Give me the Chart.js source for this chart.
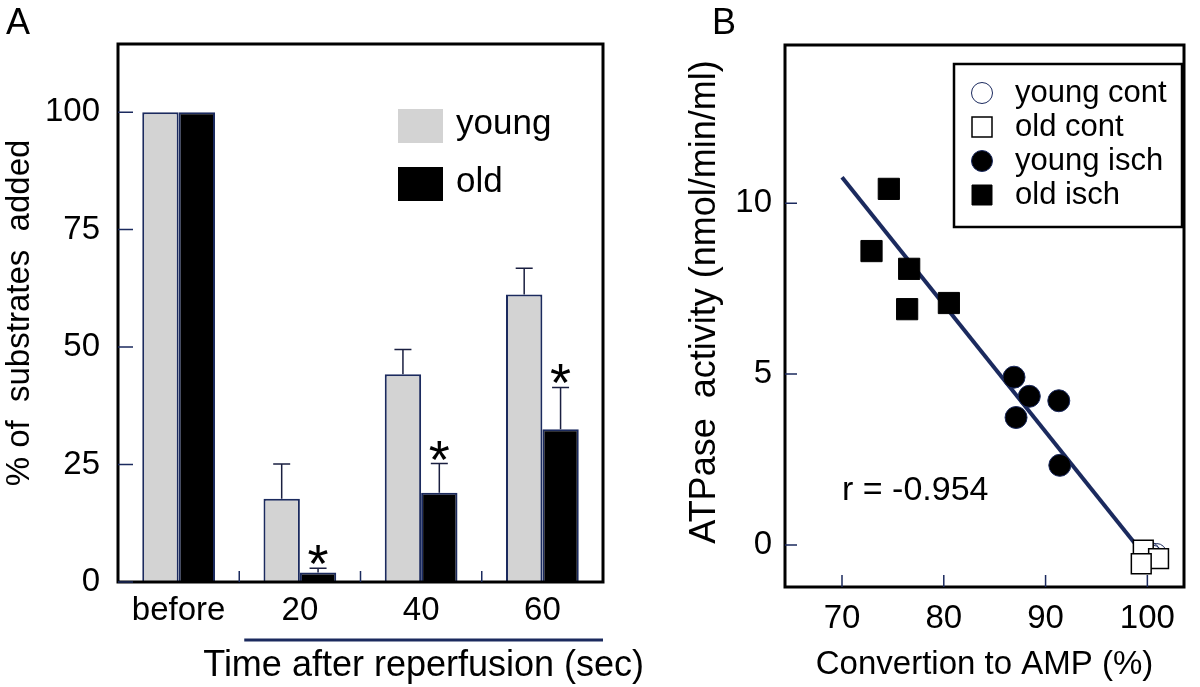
<!DOCTYPE html>
<html>
<head>
<meta charset="utf-8">
<script src="https://cdn.jsdelivr.net/npm/chart.js@4.4.1/dist/chart.umd.min.js"></script>
<style>
  body { margin: 0; background: #fff; }
  #page { position: relative; width: 1200px; height: 687px; overflow: hidden; background: #fff; }
  #wrapA { position: absolute; left: 0; top: 0; width: 700px; height: 687px; }
  #wrapB { position: absolute; left: 620px; top: 0; width: 580px; height: 687px; }
</style>
</head>
<body>
<div id="page">
  <div id="wrapA"><canvas id="BarChart"></canvas></div>
  <div id="wrapB"><canvas id="ScatterChart"></canvas></div>
</div>
<script>
// panel A: % of substrates added
const timeLabels = ['before', '20', '40', '60'];
const youngMean = [100, 17.7, 44.2, 61.2];
const youngErr = [0, 7.4, 5.3, 5.6];
const oldMean = [100, 2.0, 19.0, 32.5];
const oldErr = [0, 0.95, 6.2, 8.9];
const oldStar = [false, true, true, true];
const pctTicks = [0, 25, 50, 75, 100];

// panel B: ATPase activity vs conversion to AMP
const youngContX = [100.2, 100.9, 100.5];
const youngContY = [-0.2, -0.25, -0.3];
const oldContX = [99.6, 101.1, 99.4];
const oldContY = [-0.15, -0.4, -0.55];
const youngIschX = [86.9, 88.4, 87.1, 91.3, 91.4];
const youngIschY = [4.91, 4.35, 3.73, 4.22, 2.33];
const oldIschX = [74.6, 72.9, 76.6, 76.4, 80.5];
const oldIschY = [10.42, 8.60, 8.08, 6.90, 7.08];
const fitX = [70, 98.9];
const fitY = [10.76, 0];
const convTicks = [70, 80, 90, 100];
const atpTicks = [0, 5, 10];

const navy = '#1b2a5e';
const FONT = '"Liberation Sans", Arial, Helvetica, sans-serif';
Chart.defaults.font.family = FONT;
Chart.defaults.color = '#000';

const pts = (xs, ys) => xs.map((x, i) => ({ x: x, y: ys[i] }));

function frame(ctx, a, w) {
    ctx.save();
    ctx.strokeStyle = '#000';
    ctx.lineWidth = w;
    ctx.strokeRect(a.left, a.top, a.right - a.left, a.bottom - a.top);
    ctx.restore();
}

const barExtras = {
    id: 'barExtras',
    afterDatasetsDraw(chart) {
        const ctx = chart.ctx;
        const y = chart.scales.y;
        ctx.save();
        chart.data.datasets.forEach((ds, di) => {
            chart.getDatasetMeta(di).data.forEach((bar, i) => {
                const err = ds.errors[i];
                if (!err) return;
                const top = y.getPixelForValue(ds.data[i] + err);
                ctx.strokeStyle = '#1a1f40';
                ctx.lineWidth = 1.5;
                ctx.beginPath();
                ctx.moveTo(bar.x, bar.y);
                ctx.lineTo(bar.x, top);
                ctx.moveTo(bar.x - 8.5, top);
                ctx.lineTo(bar.x + 8.5, top);
                ctx.stroke();
                if (ds.stars && ds.stars[i]) {
                    ctx.fillStyle = '#000';
                    ctx.font = '54px ' + FONT;
                    ctx.textAlign = 'center';
                    ctx.textBaseline = 'alphabetic';
                    ctx.fillText('*', bar.x, top + 14);
                }
            });
        });
        ctx.restore();
    },
    afterDraw(chart) {
        const ctx = chart.ctx;
        const a = chart.chartArea;
        const x = chart.scales.x;
        const y = chart.scales.y;
        frame(ctx, a, 3);
        ctx.save();
        // inward ticks
        ctx.strokeStyle = navy;
        ctx.lineWidth = 1.5;
        ctx.beginPath();
        pctTicks.forEach(v => {
            const py = y.getPixelForValue(v);
            ctx.moveTo(a.left, py);
            ctx.lineTo(a.left + 15, py);
        });
        for (let i = 0; i < timeLabels.length - 1; i++) {
            const px = (x.getPixelForValue(i) + x.getPixelForValue(i + 1)) / 2;
            ctx.moveTo(px, a.bottom);
            ctx.lineTo(px, a.bottom - 11);
        }
        ctx.stroke();
        // legend
        ctx.font = '35px ' + FONT;
        ctx.textBaseline = 'middle';
        ctx.textAlign = 'left';
        chart.data.datasets.forEach((ds, i) => {
            const ly = a.top + 65 + i * 58;
            ctx.fillStyle = ds.backgroundColor;
            ctx.fillRect(a.left + 280, ly, 45, 34);
            ctx.fillStyle = '#000';
            ctx.fillText(ds.label, a.left + 338, ly + 15);
        });
        // time axis title with underline
        const x0 = (x.getPixelForValue(0) + x.getPixelForValue(1)) / 2 + 5;
        ctx.strokeStyle = navy;
        ctx.lineWidth = 3;
        ctx.beginPath();
        ctx.moveTo(x0, 640);
        ctx.lineTo(a.right, 640);
        ctx.stroke();
        ctx.textAlign = 'center';
        ctx.font = '36px ' + FONT;
        ctx.fillText('Time after reperfusion (sec)', (x0 + a.right) / 2, 666);
        // panel letter
        ctx.fillText('A', 18, 24);
        ctx.restore();
    }
};

new Chart(document.getElementById('BarChart').getContext('2d'), {
    type: 'bar',
    data: {
        labels: timeLabels,
        datasets: [{
            label: 'young',
            data: youngMean,
            errors: youngErr,
            backgroundColor: '#d3d3d3',
            borderColor: navy,
            borderWidth: 2
        }, {
            label: 'old',
            data: oldMean,
            errors: oldErr,
            stars: oldStar,
            backgroundColor: '#000000',
            borderColor: navy,
            borderWidth: 2
        }]
    },
    options: {
        responsive: true,
        maintainAspectRatio: false,
        animation: false,
        layout: { padding: { left: 0, right: 97, top: 44, bottom: 0 } },
        datasets: { bar: { categoryPercentage: 0.6, barPercentage: 1.0 } },
        plugins: { legend: { display: false }, tooltip: { enabled: false } },
        scales: {
            x: {
                grid: { display: false, drawTicks: false },
                border: { display: false },
                ticks: { font: { size: 33 }, padding: 9, color: '#000' },
                afterFit: s => { s.height = 105; }
            },
            y: {
                min: 0,
                max: 114.5,
                grid: { display: false, drawTicks: false },
                border: { display: false },
                afterBuildTicks: s => { s.ticks = pctTicks.map(v => ({ value: v })); },
                ticks: { font: { size: 33 }, padding: 18, color: '#000' },
                title: { display: true, text: '% of  substrates  added', font: { size: 33 }, padding: 0, color: '#000' },
                afterFit: s => { s.width = 118; }
            }
        }
    },
    plugins: [barExtras]
});

const scatterExtras = {
    id: 'scatterExtras',
    afterDraw(chart) {
        const ctx = chart.ctx;
        const a = chart.chartArea;
        const x = chart.scales.x;
        const y = chart.scales.y;
        frame(ctx, a, 3);
        ctx.save();
        ctx.strokeStyle = navy;
        ctx.lineWidth = 1.5;
        ctx.beginPath();
        atpTicks.forEach(v => {
            const py = y.getPixelForValue(v);
            ctx.moveTo(a.left, py);
            ctx.lineTo(a.left + 12, py);
        });
        convTicks.forEach(v => {
            const px = x.getPixelForValue(v);
            ctx.moveTo(px, a.bottom);
            ctx.lineTo(px, a.bottom - 12);
        });
        ctx.stroke();
        // legend box
        const lx = 334, ly = 64, lw = 228, lh = 163;
        ctx.strokeStyle = '#000';
        ctx.lineWidth = 2.5;
        ctx.strokeRect(lx, ly, lw, lh);
        ctx.font = '31px ' + FONT;
        ctx.textAlign = 'left';
        ctx.textBaseline = 'middle';
        chart.data.datasets.forEach((ds, i) => {
            if (!ds.inLegend) return;
            const cy = 93 + i * 34;
            const cx = 362;
            ctx.fillStyle = ds.backgroundColor;
            ctx.strokeStyle = ds.borderColor;
            ctx.lineWidth = ds.borderWidth;
            ctx.beginPath();
            if (ds.pointStyle === 'circle') {
                ctx.arc(cx, cy, 10.5, 0, Math.PI * 2);
            } else {
                ctx.rect(cx - 10, cy - 10, 20, 20);
            }
            ctx.fill();
            ctx.stroke();
            ctx.fillStyle = '#000';
            ctx.fillText(ds.label, 395, cy);
        });
        // correlation
        ctx.font = '34px ' + FONT;
        ctx.fillText('r = -0.954', x.getPixelForValue(70), y.getPixelForValue(1.58));
        // y axis title
        ctx.save();
        ctx.translate(85, 302);
        ctx.rotate(-Math.PI / 2);
        ctx.textAlign = 'center';
        ctx.font = '36px ' + FONT;
        ctx.fillText('ATPase  activity (nmol/min/ml)', 0, 0);
        ctx.restore();
        // panel letter
        ctx.textAlign = 'center';
        ctx.font = '36px ' + FONT;
        ctx.fillText('B', 104, 24);
        ctx.restore();
    }
};

new Chart(document.getElementById('ScatterChart').getContext('2d'), {
    type: 'scatter',
    data: {
        datasets: [{
            label: 'young cont',
            inLegend: true,
            data: pts(youngContX, youngContY),
            pointStyle: 'circle',
            pointRadius: 10,
            backgroundColor: 'rgba(255,255,255,0)',
            borderColor: navy,
            borderWidth: 1,
            order: 2
        }, {
            label: 'old cont',
            inLegend: true,
            data: pts(oldContX, oldContY),
            pointStyle: 'rect',
            pointRadius: 14,
            backgroundColor: '#ffffff',
            borderColor: '#000000',
            borderWidth: 1.5,
            order: 1
        }, {
            label: 'young isch',
            inLegend: true,
            data: pts(youngIschX, youngIschY),
            pointStyle: 'circle',
            pointRadius: 11,
            backgroundColor: '#000000',
            borderColor: navy,
            borderWidth: 1,
            order: 3
        }, {
            label: 'old isch',
            inLegend: true,
            data: pts(oldIschX, oldIschY),
            pointStyle: 'rect',
            pointRadius: 15,
            backgroundColor: '#000000',
            borderColor: '#000000',
            borderWidth: 1,
            order: 4
        }, {
            label: 'fit',
            inLegend: false,
            data: pts(fitX, fitY),
            showLine: true,
            pointRadius: 0,
            borderColor: navy,
            borderWidth: 4,
            order: 5
        }]
    },
    options: {
        responsive: true,
        maintainAspectRatio: false,
        animation: false,
        layout: { padding: { left: 41, right: 3, top: 45, bottom: 0 } },
        plugins: { legend: { display: false }, tooltip: { enabled: false } },
        scales: {
            x: {
                type: 'linear',
                min: 64.4,
                max: 103.6,
                grid: { display: false, drawTicks: false },
                border: { display: false },
                afterBuildTicks: s => { s.ticks = convTicks.map(v => ({ value: v })); },
                ticks: { font: { size: 33 }, padding: 12, color: '#000' },
                title: { display: true, text: 'Convertion to AMP (%)', font: { size: 33 }, padding: 2, color: '#000' },
                afterFit: s => { s.height = 100; }
            },
            y: {
                type: 'linear',
                min: -1.23,
                max: 14.63,
                grid: { display: false, drawTicks: false },
                border: { display: false },
                afterBuildTicks: s => { s.ticks = atpTicks.map(v => ({ value: v })); },
                ticks: { font: { size: 33 }, padding: 13, color: '#000' },
                afterFit: s => { s.width = 124; }
            }
        }
    },
    plugins: [scatterExtras]
});
</script>
</body>
</html>
